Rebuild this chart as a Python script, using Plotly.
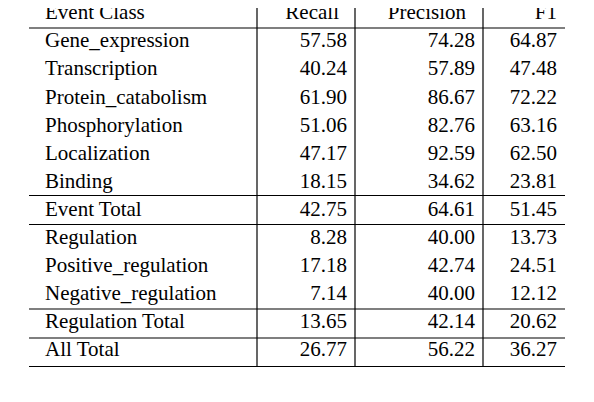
import plotly.graph_objects as go

classes = ["Gene_expression", "Transcription", "Protein_catabolism", "Phosphorylation",
           "Localization", "Binding", "Event Total", "Regulation", "Positive_regulation",
           "Negative_regulation", "Regulation Total", "All Total"]
recall = ["57.58", "40.24", "61.90", "51.06", "47.17", "18.15", "42.75",
          "8.28", "17.18", "7.14", "13.65", "26.77"]
precision = ["74.28", "57.89", "86.67", "82.76", "92.59", "34.62", "64.61",
             "40.00", "42.74", "40.00", "42.14", "56.22"]
f1 = ["64.87", "47.48", "72.22", "63.16", "62.50", "23.81", "51.45",
      "13.73", "24.51", "12.12", "20.62", "36.27"]
headers = ["Event Class", "Recall", "Precision", "F1"]
caption = "Table 2: Performance of the statistical model with"

font = dict(family="Liberation Serif", size=21, color="black")
row_h = 28.1
y0 = 14
ys = [y0 + row_h * (i + 1) for i in range(len(classes))]

fig = go.Figure()
cols = [(45, "middle right", classes), (347, "middle left", recall),
        (475, "middle left", precision), (557, "middle left", f1)]
for x, pos, vals in cols:
    fig.add_trace(go.Scatter(x=[x] * len(vals), y=ys, text=vals, mode="text",
                             textposition=pos, textfont=font, hoverinfo="skip"))
fig.add_trace(go.Scatter(x=[45, 339, 466, 557], y=[y0] * 4, text=headers, mode="text",
                         textposition=["middle right", "middle left", "middle left", "middle left"],
                         textfont=font, hoverinfo="skip"))
fig.add_annotation(x=0, y=408, text=caption, showarrow=False, xanchor="left",
                   yanchor="middle", font=dict(family="Liberation Serif", size=24), xref="x", yref="y")

line = dict(color="black", width=1.2)
for yl in [28, 195.5, 224.5, 309, 338, 366.5]:
    fig.add_shape(type="line", x0=29, x1=565, y0=yl, y1=yl, line=line)
for xl in [257, 355, 483]:
    fig.add_shape(type="line", x0=xl, x1=xl, y0=0, y1=366.5, line=line)

# page body has an 8px margin, so shift the data window to compensate
fig.update_xaxes(range=[8, 602], visible=False)
fig.update_yaxes(range=[410, 8], visible=False)
fig.update_layout(width=594, height=402, margin=dict(l=0, r=0, t=0, b=0),
                  showlegend=False, plot_bgcolor="white", paper_bgcolor="white")
fig.write_html("out.html")
